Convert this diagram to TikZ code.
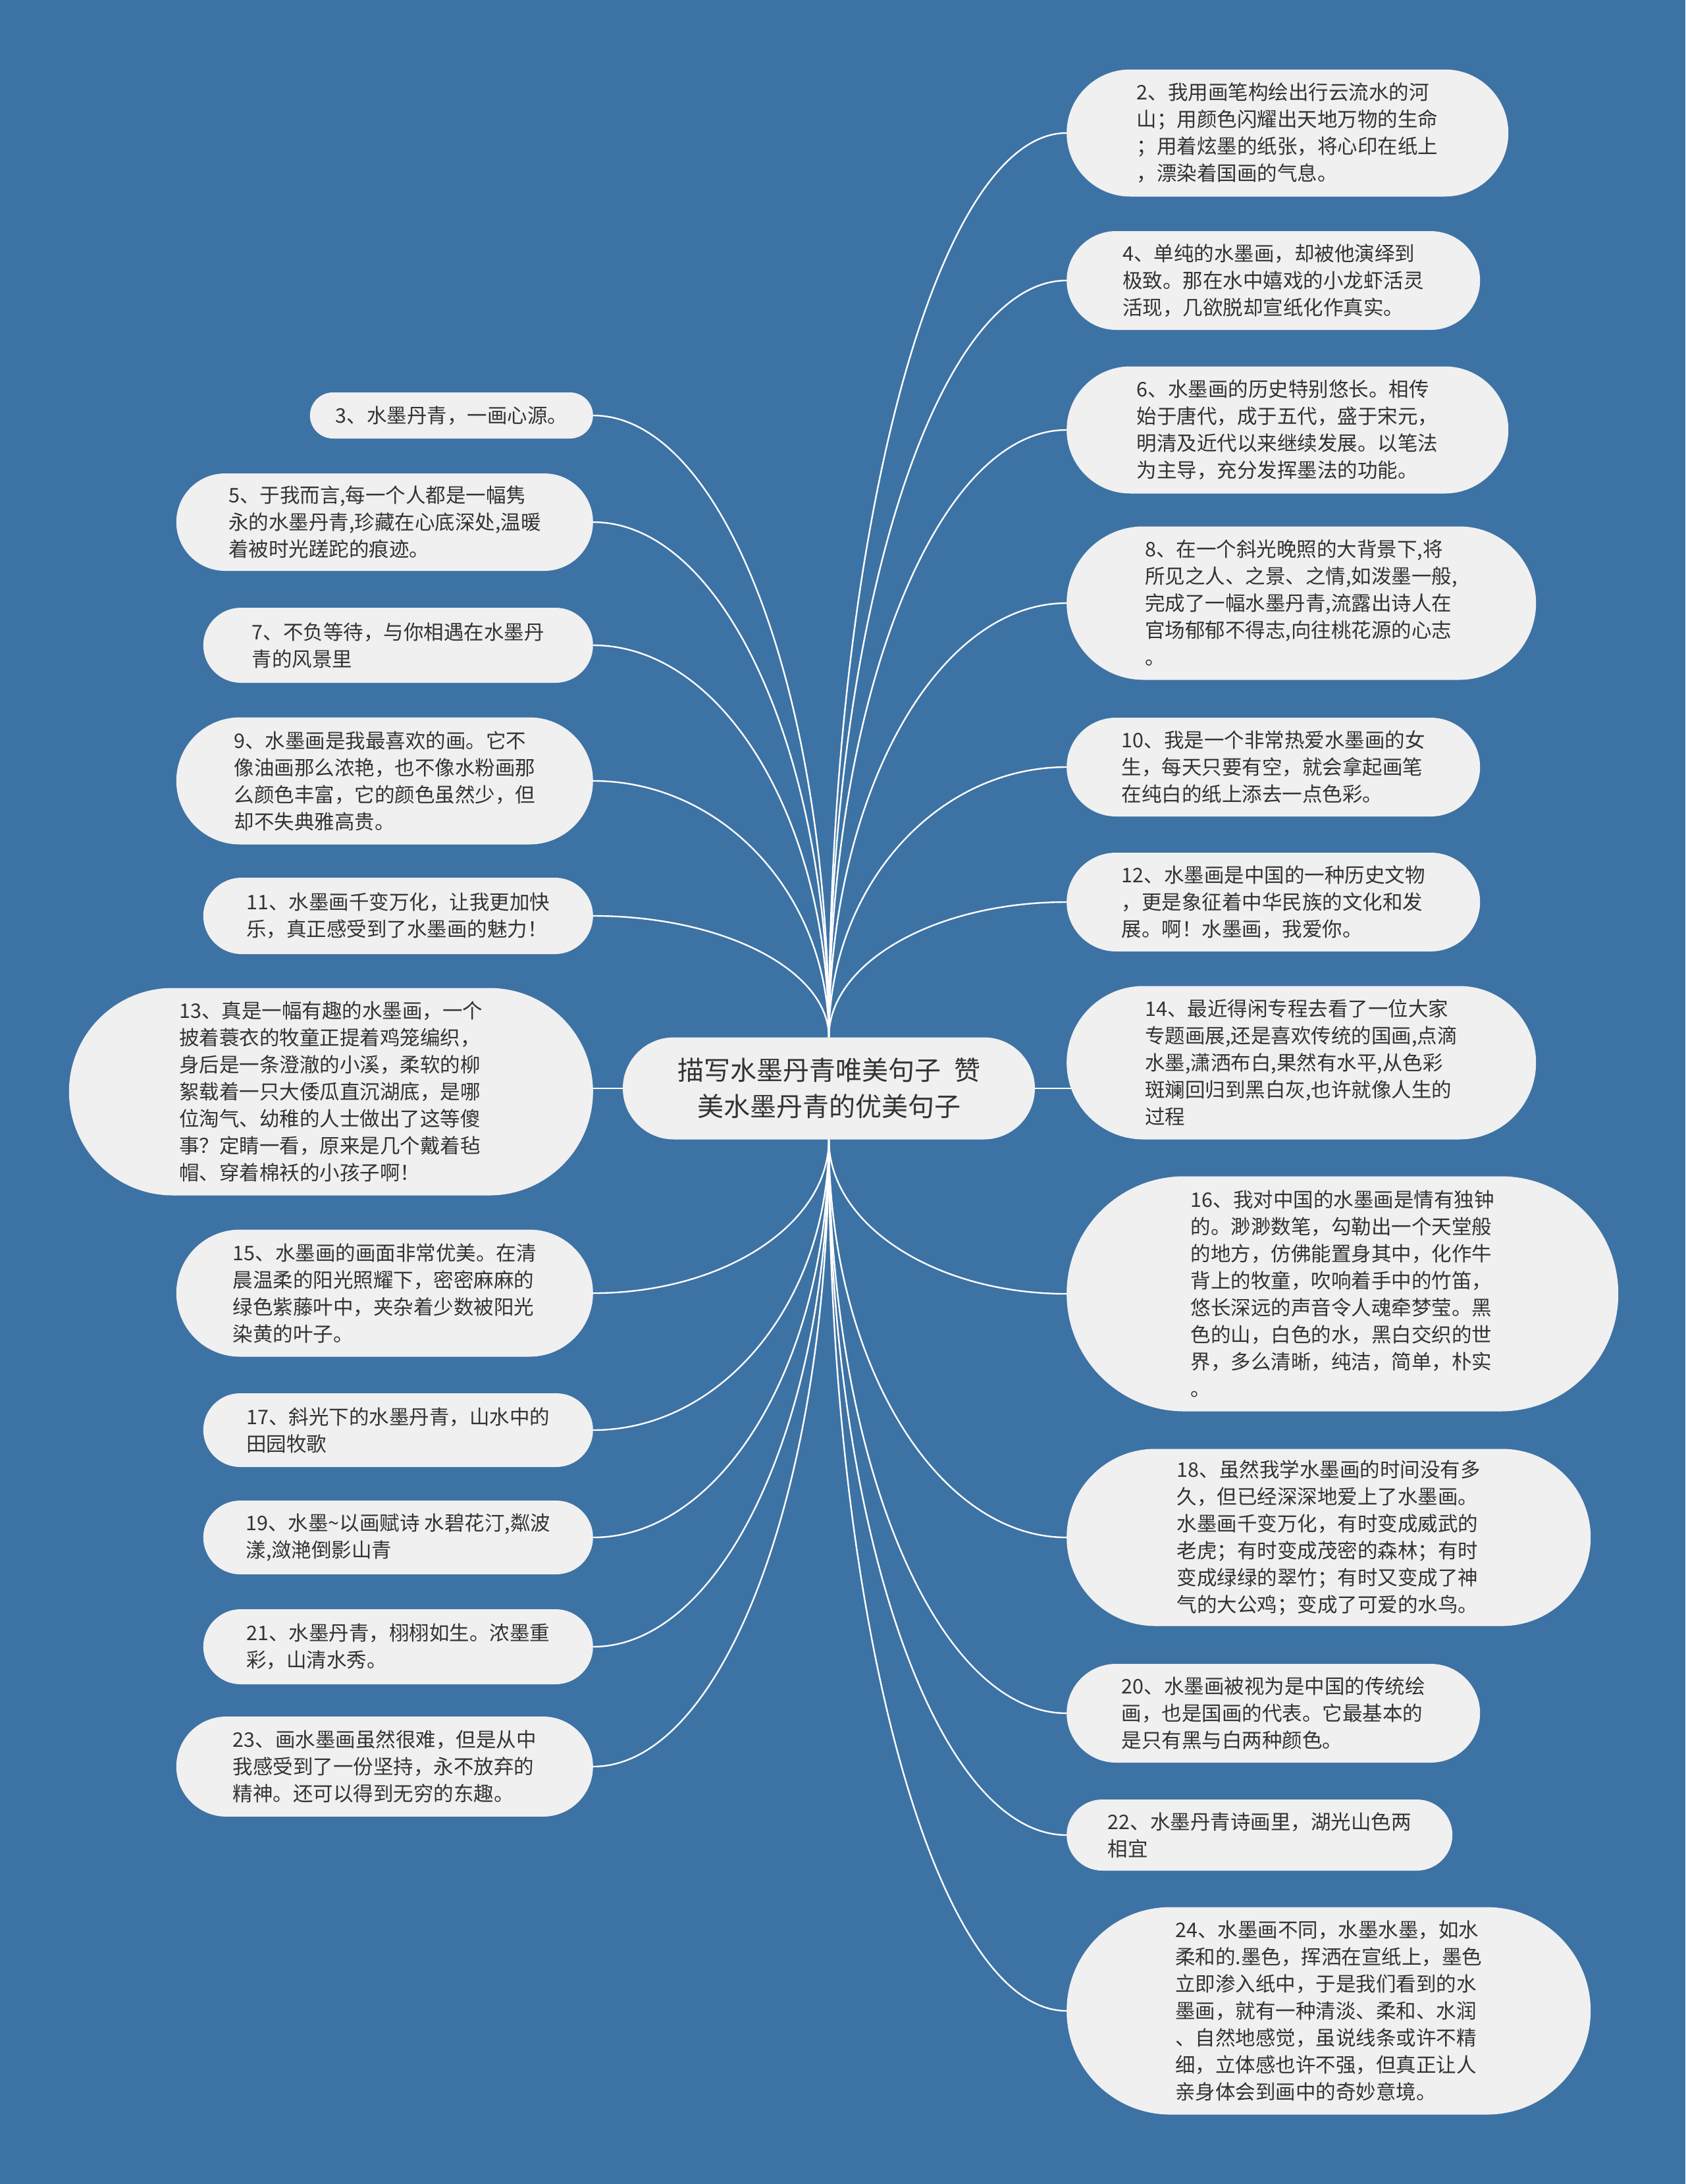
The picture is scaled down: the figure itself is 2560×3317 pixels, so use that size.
\documentclass[tikz,border=0pt]{standalone}
\usepackage{fontspec}
\setmainfont{Noto Sans CJK SC}
\usetikzlibrary{calc}
\definecolor{pageblue}{HTML}{3D72A4}
\definecolor{boxgray}{HTML}{F0F0F0}
\definecolor{inkgray}{HTML}{333333}
\pgfdeclarelayer{edges}
\pgfsetlayers{edges,main}

\begin{document}
\begin{tikzpicture}[x=1pt,y=-1pt,
	mnode/.style={fill=boxgray,text=inkgray,align=center,inner sep=0pt,minimum width=626pt,minimum height=155pt,rounded corners=77.5pt,font=\fontsize{40}{55}\selectfont},
	lnode/.style 2 args={fill=boxgray,text=inkgray,align=left,inner sep=0pt,minimum width=#1pt,minimum height=#2pt,rounded corners=0.5*#2pt,font=\fontsize{30.5}{41}\selectfont},
	link/.style={white,line width=2.4pt}]
		\useasboundingbox (0,0) rectangle (2560,3317);
		\node[mnode] (title) at (1259,1653) {描写水墨丹青唯美句子\hspace{0.5em}赞\\美水墨丹青的优美句子};
		% right side
		\node[lnode={671}{193},anchor=west] (s2) at (1620,202) {2、我用画笔构绘出行云流水的河\\山；用颜色闪耀出天地万物的生命\\；用着炫墨的纸张，将心印在纸上\\，漂染着国画的气息。};
		\node[lnode={628}{150},anchor=west] (s4) at (1620,426) {4、单纯的水墨画，却被他演绎到\\极致。那在水中嬉戏的小龙虾活灵\\活现，几欲脱却宣纸化作真实。};
		\node[lnode={671}{193},anchor=west] (s6) at (1620,653) {6、水墨画的历史特别悠长。相传\\始于唐代，成于五代，盛于宋元，\\明清及近代以来继续发展。以笔法\\为主导，充分发挥墨法的功能。};
		\node[lnode={713}{233},anchor=west] (s8) at (1620,916) {8、在一个斜光晚照的大背景下,将\\所见之人、之景、之情,如泼墨一般,\\完成了一幅水墨丹青,流露出诗人在\\官场郁郁不得志,向往桃花源的心志\\。};
		\node[lnode={628}{150},anchor=west] (s10) at (1620,1165) {10、我是一个非常热爱水墨画的女\\生，每天只要有空，就会拿起画笔\\在纯白的纸上添去一点色彩。};
		\node[lnode={628}{150},anchor=west] (s12) at (1620,1370) {12、水墨画是中国的一种历史文物\\，更是象征着中华民族的文化和发\\展。啊！水墨画，我爱你。};
		\node[lnode={713}{233},anchor=west] (s14) at (1620,1614) {14、最近得闲专程去看了一位大家\\专题画展,还是喜欢传统的国画,点滴\\水墨,潇洒布白,果然有水平,从色彩\\斑斓回归到黑白灰,也许就像人生的\\过程};
		\node[lnode={838}{357},anchor=west] (s16) at (1620,1965) {16、我对中国的水墨画是情有独钟\\的。渺渺数笔，勾勒出一个天堂般\\的地方，仿佛能置身其中，化作牛\\背上的牧童，吹响着手中的竹笛，\\悠长深远的声音令人魂牵梦莹。黑\\色的山，白色的水，黑白交织的世\\界，多么清晰，纯洁，简单，朴实\\。};
		\node[lnode={796}{269},anchor=west] (s18) at (1620,2335) {18、虽然我学水墨画的时间没有多\\久，但已经深深地爱上了水墨画。\\水墨画千变万化，有时变成威武的\\老虎；有时变成茂密的森林；有时\\变成绿绿的翠竹；有时又变成了神\\气的大公鸡；变成了可爱的水鸟。};
		\node[lnode={628}{150},anchor=west] (s20) at (1620,2602) {20、水墨画被视为是中国的传统绘\\画，也是国画的代表。它最基本的\\是只有黑与白两种颜色。};
		\node[lnode={586}{108},anchor=west] (s22) at (1620,2787) {22、水墨丹青诗画里，湖光山色两\\相宜};
		\node[lnode={796}{315},anchor=west] (s24) at (1620,3054) {24、水墨画不同，水墨水墨，如水\\柔和的.墨色，挥洒在宣纸上，墨色\\立即渗入纸中，于是我们看到的水\\墨画，就有一种清淡、柔和、水润\\、自然地感觉，虽说线条或许不精\\细，立体感也许不强，但真正让人\\亲身体会到画中的奇妙意境。};
		% left side
		\node[lnode={430}{70},anchor=east] (s3) at (901,631) {3、水墨丹青，一画心源。};
		\node[lnode={633}{148},anchor=east] (s5) at (901,793) {5、于我而言,每一个人都是一幅隽\\永的水墨丹青,珍藏在心底深处,温暖\\着被时光蹉跎的痕迹。};
		\node[lnode={592}{114},anchor=east] (s7) at (901,980) {7、不负等待，与你相遇在水墨丹\\青的风景里};
		\node[lnode={633}{193},anchor=east] (s9) at (901,1186) {9、水墨画是我最喜欢的画。它不\\像油画那么浓艳，也不像水粉画那\\么颜色丰富，它的颜色虽然少，但\\却不失典雅高贵。};
		\node[lnode={592}{116},anchor=east] (s11) at (901,1391) {11、水墨画千变万化，让我更加快\\乐，真正感受到了水墨画的魅力！};
		\node[lnode={796}{315},anchor=east] (s13) at (901,1658) {13、真是一幅有趣的水墨画，一个\\披着蓑衣的牧童正提着鸡笼编织，\\身后是一条澄澈的小溪，柔软的柳\\絮载着一只大倭瓜直沉湖底，是哪\\位淘气、幼稚的人士做出了这等傻\\事？定睛一看，原来是几个戴着毡\\帽、穿着棉袄的小孩子啊！};
		\node[lnode={633}{193},anchor=east] (s15) at (901,1964) {15、水墨画的画面非常优美。在清\\晨温柔的阳光照耀下，密密麻麻的\\绿色紫藤叶中，夹杂着少数被阳光\\染黄的叶子。};
		\node[lnode={592}{112},anchor=east] (s17) at (901,2172) {17、斜光下的水墨丹青，山水中的\\田园牧歌};
		\node[lnode={592}{112},anchor=east] (s19) at (901,2335) {19、水墨\textasciitilde{}以画赋诗 水碧花汀,粼波\\漾,潋滟倒影山青};
		\node[lnode={592}{114},anchor=east] (s21) at (901,2501) {21、水墨丹青，栩栩如生。浓墨重\\彩，山清水秀。};
		\node[lnode={633}{152},anchor=east] (s23) at (901,2683) {23、画水墨画虽然很难，但是从中\\我感受到了一份坚持，永不放弃的\\精神。还可以得到无穷的东趣。};
		\begin{pgfonlayer}{edges}
			\fill[pageblue] (0,0) rectangle (2560,3317);
			% quarter-ellipse links from the top and bottom of the title
			\foreach \s in {s2,s4,s6,s8,s10,s12} {
				\coordinate (k) at (title.north |- \s.west);
				\draw[link] (title.north) .. controls ($(title.north)!0.552!(k)$) and ($(\s.west)!0.552!(k)$) .. (\s.west);
			}
			\foreach \s in {s16,s18,s20,s22,s24} {
				\coordinate (k) at (title.south |- \s.west);
				\draw[link] (title.south) .. controls ($(title.south)!0.552!(k)$) and ($(\s.west)!0.552!(k)$) .. (\s.west);
			}
			\foreach \s in {s3,s5,s7,s9,s11} {
				\coordinate (k) at (title.north |- \s.east);
				\draw[link] (title.north) .. controls ($(title.north)!0.552!(k)$) and ($(\s.east)!0.552!(k)$) .. (\s.east);
			}
			\foreach \s in {s15,s17,s19,s21,s23} {
				\coordinate (k) at (title.south |- \s.east);
				\draw[link] (title.south) .. controls ($(title.south)!0.552!(k)$) and ($(\s.east)!0.552!(k)$) .. (\s.east);
			}
			\draw[link] (title.east) -- (title.east -| s14.center);
			\draw[link] (title.west) -- (title.west -| s13.center);
		\end{pgfonlayer}
	\end{tikzpicture}
\end{document}
